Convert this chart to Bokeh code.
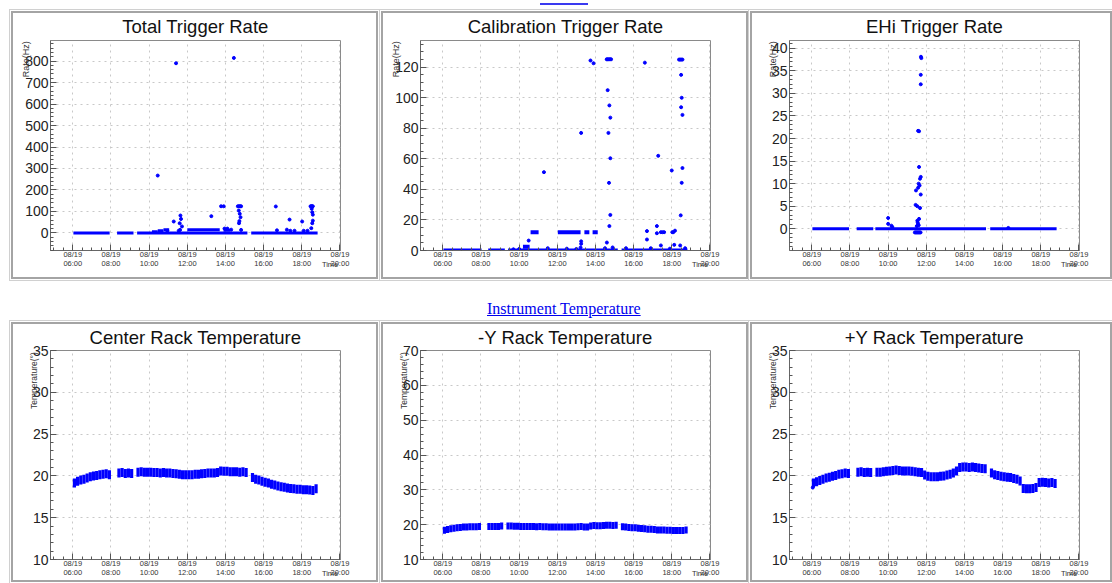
import numpy as np
from bokeh.plotting import figure
from bokeh.models import Range1d, FixedTicker, Div
from bokeh.layouts import row, column
from bokeh.embed import file_html
from bokeh.resources import INLINE

NAN = float("nan")
NB = "\u00a0"

# ---------------- axis / tick data ----------------
tick_hours = [6, 8, 10, 12, 14, 16, 18, 20]
tick_labels = ["08/19\n06:00", "08/19\n08:00", "08/19\n10:00", "08/19\n12:00",
               "08/19\n14:00", "08/19\n16:00", "08/19\n18:00", "08/19\n20:00"]
x_span = (4.83, 20.03)

# ---------------- trigger rate data ----------------
total_base_start = [6.03, 8.32, 9.37, 15.35]
total_base_end = [7.93, 9.18, 15.15, 18.83]
total_band_start = [10.15, 10.45, 10.75, 12.0, 13.9]
total_band_end = [10.45, 10.75, 11.05, 13.7, 14.25]
total_band_rate = [5, 10, 15, 15, 12]
total_pts_t = [11.41, 14.44, 10.45, 11.29, 11.64, 11.67, 11.60, 11.72, 11.62, 13.26,
               13.77, 13.91, 14.65, 14.71, 14.77, 14.82, 14.70, 14.75, 14.79, 14.73,
               14.71, 14.82, 16.64, 17.36, 18.02, 18.46, 18.50, 18.54, 18.58, 18.52,
               18.55, 18.58, 18.58, 18.55, 18.50, 16.70, 17.22, 17.40, 17.62, 18.10,
               18.30, 14.10, 14.30, 13.95, 10.95, 11.55]
total_pts_r = [790, 815, 267, 53, 81, 65, 45, 30, 14, 78,
               124, 124, 124, 124, 124, 124, 104, 89, 73, 55,
               45, 14, 123, 62, 53, 124, 124, 124, 124, 112,
               96, 85, 57, 45, 22, 12, 15, 10, 10, 10,
               10, 20, 15, 20, 10, 10]

calib_base_start = [6.03, 8.38, 9.42, 15.37]
calib_base_end = [8.03, 9.25, 15.17, 18.82]
calib_band_start = [10.2, 10.6, 12.03, 13.42, 13.85]
calib_band_end = [10.55, 11.02, 13.22, 13.68, 14.12]
calib_band_rate = [2.5, 12, 12, 12, 12]
calib_pts_t = [11.30, 13.25, 13.74, 13.90, 14.59, 14.64, 14.70, 14.76, 14.82, 14.64,
               14.73, 14.78, 14.68, 14.78, 14.71, 14.78, 14.73, 14.60, 16.59, 16.70,
               16.70, 17.22, 17.29, 17.22, 17.43, 17.52, 17.60, 17.43, 18.00, 18.03,
               18.08, 18.17, 18.13, 18.38, 18.44, 18.50, 18.56, 18.49, 18.52, 18.49,
               18.56, 18.56, 18.52, 18.47, 18.44, 10.50, 13.25, 13.25, 13.22, 11.50,
               12.50, 13.00, 14.50, 14.90, 15.60, 16.90, 17.90, 18.70, 10.00, 9.70]
calib_pts_r = [51.3, 77, 124.4, 122.6, 125.2, 125.2, 125.2, 125.2, 125.2, 105,
               95, 87, 77, 60.4, 44.3, 23.3, 16, 5.2, 123, 12.7,
               7.2, 16, 62, 11.3, 12, 12, 12, 3.3, 52.4, 12,
               12, 13, 3.7, 125, 125, 125, 125, 115, 100, 93.8,
               88.8, 54, 44.3, 23, 3.3, 6.5, 6, 4.4, 2, 1.5,
               1.2, 1, 1.5, 2, 1.5, 1.5, 1.2, 1.5, 1, 0.8]

ehi_base_start = [6.03, 8.35, 9.33, 15.35]
ehi_base_end = [7.95, 9.22, 15.13, 18.83]
ehi_pts_t = [11.74, 11.72, 11.71, 11.71, 11.57, 11.62, 11.62, 11.71, 11.67, 11.60,
             11.65, 11.57, 11.46, 11.71, 11.67, 11.44, 11.53, 11.62, 11.53, 11.55,
             11.57, 11.50, 11.60, 10.00, 10.00, 10.17, 10.22, 11.40, 11.45, 11.50,
             11.55, 11.60, 11.65, 11.70, 16.30]
ehi_pts_r = [37.8, 38.1, 34.1, 32.0, 21.7, 21.6, 13.7, 11.5, 11.1, 10.0,
             9.6, 9.1, 8.5, 7.6, 4.6, 5.3, 5.0, 2.2, 1.8, 1.4,
             1.0, 0.6, 0.8, 2.4, 1.1, 0.7, 0.4, -0.8, -0.8, -0.8,
             -0.8, -0.8, -0.8, -0.8, 0.2]

# ---------------- temperature data (10-minute samples 06:05 .. 18:55) ----------------
temp_times = [6 + (5 + 10 * k) / 60 for k in range(78)]
center_temp = [
    19.15, 19.35, 19.5, 19.6, 19.75, 19.9,
    20.0, 20.05, 20.15, 20.2, 20.25, 20.15,
    NAN, NAN, 20.35, 20.4, 20.3, 20.35,
    20.3, NAN, 20.45, 20.5, 20.45, 20.45,
    20.45, 20.4, 20.4, 20.35, 20.4, 20.35,
    20.35, 20.3, 20.25, 20.2, 20.15, 20.15,
    20.15, 20.15, 20.2, 20.2, 20.25, 20.3,
    20.35, 20.35, 20.35, 20.4, 20.6, 20.55,
    20.55, 20.5, 20.5, 20.5, 20.45, 20.5,
    20.4, NAN, 19.8, 19.6, 19.5, 19.35,
    19.25, 19.15, 19.0, 18.9, 18.8, 18.7,
    18.65, 18.55, 18.5, 18.45, 18.4, 18.4,
    18.35, 18.35, 18.3, 18.25, 18.45, NAN]
minusy_temp = [
    18.4, 18.6, 18.8, 19.0, 19.1, 19.2,
    19.3, 19.35, 19.4, 19.4, 19.4, 19.5,
    NAN, NAN, 19.5, 19.5, 19.45, 19.5,
    19.6, NAN, 19.6, 19.6, 19.55, 19.55,
    19.5, 19.5, 19.5, 19.45, 19.45, 19.4,
    19.45, 19.4, 19.4, 19.35, 19.35, 19.3,
    19.3, 19.3, 19.3, 19.3, 19.35, 19.35,
    19.4, 19.45, 19.35, 19.3, 19.6, 19.75,
    19.7, 19.7, 19.75, 19.8, 19.85, 19.75,
    19.8, NAN, 19.4, 19.3, 19.2, 19.15,
    19.1, 19.0, 18.9, 18.8, 18.7, 18.65,
    18.6, 18.5, 18.5, 18.45, 18.4, 18.4,
    18.35, 18.3, 18.3, 18.3, 18.45, NAN]
plusy_temp = [
    19.15, 19.3, 19.45, 19.6, 19.75, 19.85,
    19.95, 20.05, 20.2, 20.25, 20.35, 20.3,
    NAN, NAN, 20.45, 20.5, 20.4, 20.45,
    20.4, NAN, 20.45, 20.45, 20.5, 20.55,
    20.6, 20.65, 20.7, 20.65, 20.6, 20.6,
    20.6, 20.55, 20.5, 20.45, 20.4, 20.1,
    19.95, 19.9, 19.9, 19.9, 19.95, 20.0,
    20.1, 20.2, 20.35, 20.6, 21.0, 21.05,
    21.05, 21.0, 21.05, 21.0, 20.95, 20.9,
    20.85, NAN, 20.35, 20.15, 20.05, 19.95,
    19.9, 19.85, 19.8, 19.7, 19.6, 19.4,
    18.5, 18.45, 18.45, 18.5, 18.6, 19.2,
    19.25, 19.2, 19.15, 19.2, 19.1, NAN]
plusy_extra_t = [6.05]
plusy_extra_v = [18.6]

BLUE = "#0000ff"
FONT = "Liberation Sans"
cell_style = {"outline": "2px solid #a4a4a4",
              "box-shadow": "0 0 0 3px #ffffff, 0 0 0 4px #d0d0d0"}


def panel(title, w, h, left, right, top, bottom, yr, ymaj, ymin, ylab, ylab_size, ylab_pad,
          margin, title_standoff):
    p = figure(width=w, height=h, x_range=Range1d(*x_span), y_range=Range1d(*yr),
               output_backend="svg", toolbar_location=None,
               min_border_left=left, min_border_right=right,
               min_border_top=top, min_border_bottom=bottom,
               margin=margin, styles=cell_style)
    p.background_fill_color = "white"
    p.border_fill_color = "white"
    p.outline_line_color = "#8a8a8a"
    p.outline_line_width = 1

    p.title.text = title
    p.title.align = "center"
    p.title.vertical_align = "top"
    p.title.text_font = FONT
    p.title.text_font_size = "18.5px"
    p.title.text_font_style = "normal"
    p.title.text_color = "#111111"
    p.title.standoff = title_standoff

    p.xaxis.ticker = FixedTicker(ticks=tick_hours,
                                 minor_ticks=list(np.arange(5.0, 20.01, 0.5)))
    p.xaxis.major_label_overrides = {h_: l for h_, l in zip(tick_hours, tick_labels)}
    p.yaxis.ticker = FixedTicker(ticks=ymaj, minor_ticks=ymin)
    for ax in (p.xaxis[0], p.yaxis[0]):
        ax.axis_line_color = "#666666"
        ax.major_tick_line_color = "#555555"
        ax.minor_tick_line_color = "#555555"
        ax.major_tick_in = 6
        ax.major_tick_out = 0
        ax.minor_tick_in = 3
        ax.minor_tick_out = 0
        ax.major_label_text_font = FONT
        ax.axis_label_text_font = FONT
        ax.axis_label_text_font_style = "normal"
        ax.axis_label_text_color = "#333333"
    try:
        p.xaxis.axis_label_align = "end"
    except AttributeError:
        pass
    p.xaxis.major_label_text_font_size = "7.5px"
    p.xaxis.major_label_text_line_height = 1.05
    p.xaxis.major_label_text_color = "#333333"
    p.xaxis.major_label_standoff = -1
    # the label is centred on the axis end; trailing no-break spaces move it left
    p.xaxis.axis_label = "Time" + NB * 10
    p.xaxis.axis_label_text_font_size = "7.5px"
    p.xaxis.axis_label_standoff = -11
    p.yaxis.major_label_text_font_size = "14px"
    p.yaxis.major_label_text_color = "#222222"
    p.yaxis.major_label_standoff = 2
    # centred label padded at its start so that the visible text ends at the frame top
    p.yaxis.axis_label = NB * ylab_pad + ylab
    p.yaxis.axis_label_text_font_size = ylab_size
    p.yaxis.axis_label_standoff = -9

    for g in (p.xgrid[0], p.ygrid[0]):
        g.grid_line_color = "#c8c8c8"
        g.grid_line_dash = "dotted"
        g.grid_line_width = 1
    return p


TW, TH = 363, 264
BH = 256

# ---- top row ----
p1 = panel("Total Trigger Rate", TW, TH, 37, 36, 27, 27, (-82, 896),
           list(range(0, 801, 100)), list(range(-80, 891, 20)), "Rate(Hz)", "9px", 69,
           (13, 0, 0, 13), 3)
p1.segment(x0=total_base_start, y0=0, x1=total_base_end, y1=0, line_color=BLUE, line_width=3)
p1.segment(x0=total_band_start, y0=total_band_rate, x1=total_band_end, y1=total_band_rate,
           line_color=BLUE, line_width=3)
p1.scatter(total_pts_t, total_pts_r, size=3, color=BLUE)

p2 = panel("Calibration Trigger Rate", TW, TH, 37, 36, 27, 27, (0, 137.5),
           list(range(0, 121, 20)), list(range(0, 136, 5)), "Rate(Hz)", "9px", 69,
           (13, 0, 0, 7), 3)
p2.segment(x0=calib_base_start, y0=0, x1=calib_base_end, y1=0, line_color=BLUE, line_width=4)
p2.segment(x0=calib_band_start, y0=calib_band_rate, x1=calib_band_end, y1=calib_band_rate,
           line_color=BLUE, line_width=4)
p2.scatter(calib_pts_t, calib_pts_r, size=3, color=BLUE)

p3 = panel("EHi Trigger Rate", 358, TH, 37, 31, 27, 27, (-4.8, 41.7),
           list(range(0, 41, 5)), list(range(-4, 42, 1)), "Rate(Hz)", "9px", 69,
           (13, 0, 0, 6), 3)
p3.segment(x0=ehi_base_start, y0=0, x1=ehi_base_end, y1=0, line_color=BLUE, line_width=3)
p3.scatter(ehi_pts_t, ehi_pts_r, size=3, color=BLUE)

# ---- bottom row ----
p4 = panel("Center Rack Temperature", TW, BH, 37, 36, 26, 21, (10, 35),
           list(range(10, 36, 5)), list(range(10, 36, 1)), "Temperature(°)", "8.5px", 63,
           (0, 0, 0, 13), 2)
p4.rect(temp_times, center_temp, width=1 / 6, height=9, height_units="screen",
        fill_color=BLUE, line_color=None)

p5 = panel("-Y Rack Temperature", TW, BH, 37, 36, 26, 21, (10, 70),
           list(range(10, 71, 10)), list(range(10, 71, 2)), "Temperature(°)", "8.5px", 63,
           (0, 0, 0, 7), 2)
p5.rect(temp_times, minusy_temp, width=1 / 6, height=7, height_units="screen",
        fill_color=BLUE, line_color=None)

p6 = panel("+Y Rack Temperature", 358, BH, 37, 31, 26, 21, (10, 35),
           list(range(10, 36, 5)), list(range(10, 36, 1)), "Temperature(°)", "8.5px", 63,
           (0, 0, 0, 6), 2)
p6.rect(temp_times, plusy_temp, width=1 / 6, height=9, height_units="screen",
        fill_color=BLUE, line_color=None)
p6.scatter(plusy_extra_t, plusy_extra_v, size=3, color=BLUE)

link_html = (
    '<div style="position:fixed;left:540px;top:3px;width:48px;height:2px;'
    'background:#3a3af0"></div>'
    '<div style="padding:23px 0 0 487px;font-family:\'Liberation Serif\',serif;'
    'font-size:16px;line-height:18px;color:#0000ee;text-decoration:underline;'
    'white-space:nowrap">Instrument Temperature</div>')
link = Div(text=link_html, width=1100, height=47, margin=(0, 0, 0, 0))

layout = column(row(p1, p2, p3, spacing=0), link, row(p4, p5, p6, spacing=0), spacing=0)

open("out.html", "w").write(file_html(layout, INLINE))
